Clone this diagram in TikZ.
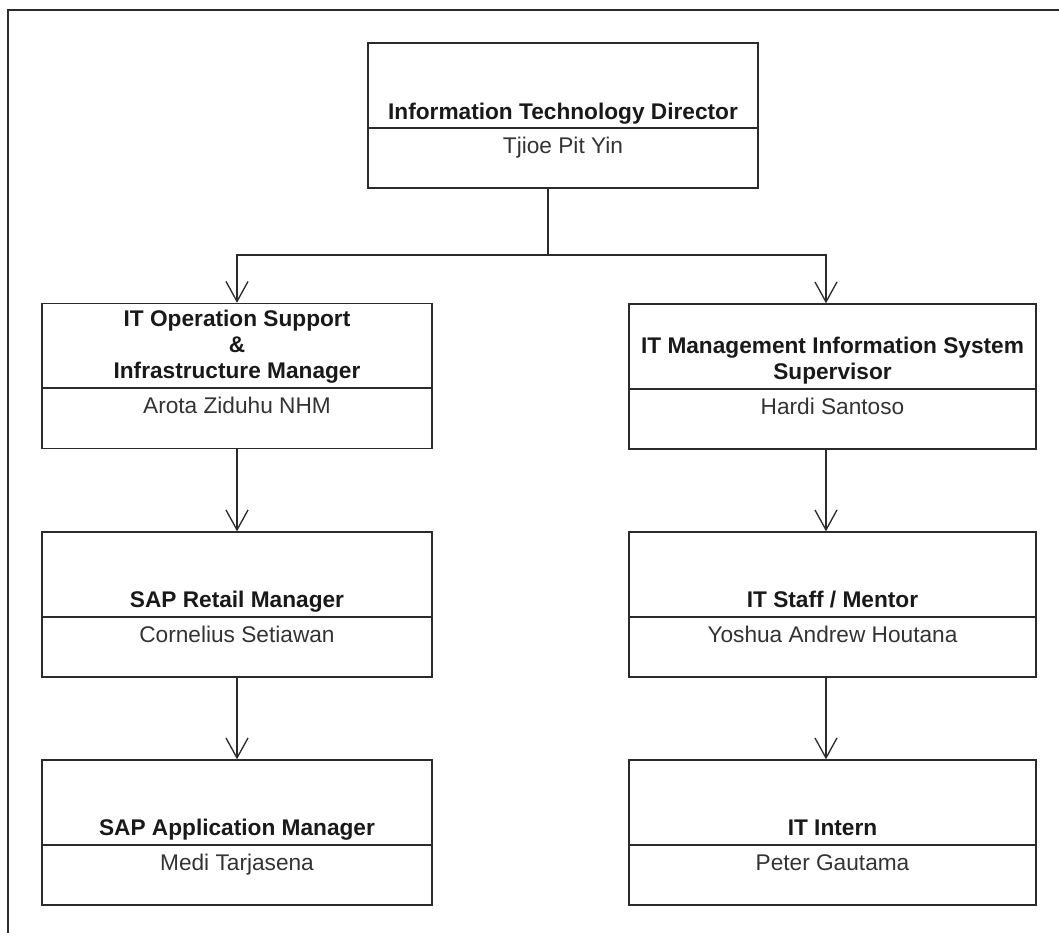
\documentclass[tikz,border=0pt]{standalone}
\usepackage{fontspec}
\setmainfont{Liberation Sans}
\usetikzlibrary{arrows.meta}
\definecolor{edge}{HTML}{2B2B2B}
\definecolor{namegray}{HTML}{333333}
\begin{document}
\begin{tikzpicture}[x=0.75pt,y=-0.75pt,
    box/.style={draw=edge,line width=1pt,rectangle,inner sep=0pt,minimum height=108.75pt},
    narrowbox/.style={box,minimum width=292.5pt},
    widebox/.style={box,minimum width=305.25pt},
    title/.style={anchor=base,align=center,inner sep=0pt,font=\fontsize{17}{19.2}\selectfont\bfseries,text=black!90},
    person/.style={anchor=base,inner sep=0pt,font=\fontsize{17}{19.2}\selectfont,text=namegray},
    arr/.style={draw=edge,line width=1pt,-{Straight Barb[length=15pt,width=16.5pt]}}]
    \useasboundingbox (0,0) rectangle (1059,932);
    \draw[edge,line width=1.6pt] (1070,10) -- (8,10) -- (8,945);
    % boxes
    \node[narrowbox] (dir) at (563,115.5){};
    \node[narrowbox] (ops) at (237,376){};
    \node[widebox] (mis) at (832.5,376.5){};
    \node[narrowbox] (retail) at (237,604.5){};
    \node[widebox] (staff) at (832.5,604.5){};
    \node[narrowbox] (app) at (237,832.5){};
    \node[widebox] (intern) at (832.5,832.5){};
    % dividers
    \draw[edge,line width=1pt] (dir.west |- 0,128) -- (dir.east |- 0,128);
    \draw[edge,line width=1pt] (ops.west |- 0,388) -- (ops.east |- 0,388);
    \draw[edge,line width=1pt] (mis.west |- 0,389) -- (mis.east |- 0,389);
    \draw[edge,line width=1pt] (retail.west |- 0,617) -- (retail.east |- 0,617);
    \draw[edge,line width=1pt] (staff.west |- 0,617) -- (staff.east |- 0,617);
    \draw[edge,line width=1pt] (app.west |- 0,845) -- (app.east |- 0,845);
    \draw[edge,line width=1pt] (intern.west |- 0,845) -- (intern.east |- 0,845);
    % titles and names
    \node[title] (dirT) at (563,119){Information Technology Director};
    \node[person] (dirN) at (563,153){Tjioe Pit Yin};
    \node[title] (opsT) at (237,378){IT Operation Support\\\&\\Infrastructure Manager};
    \node[person] (opsN) at (237,413){Arota Ziduhu NHM};
    \node[title] (misT) at (832.5,379){IT Management Information System\\Supervisor};
    \node[person] (misN) at (832.5,414){Hardi Santoso};
    \node[title] (retailT) at (237,607){SAP Retail Manager};
    \node[person] (retailN) at (237,642){Cornelius Setiawan};
    \node[title] (staffT) at (832.5,607){IT Staff / Mentor};
    \node[person] (staffN) at (832.5,642){Yoshua Andrew Houtana};
    \node[title] (appT) at (237,835){SAP Application Manager};
    \node[person] (appN) at (237,870){Medi Tarjasena};
    \node[title] (internT) at (832.5,835){IT Intern};
    \node[person] (internN) at (832.5,870){Peter Gautama};
    % connectors
    \coordinate (fork) at (548,255);
    \draw[edge,line width=1pt] (dir.south -| fork) -- (fork);
    \draw[arr] (fork) -| (ops.north);
    \draw[arr] (fork) -| ([xshift=-4.9pt]mis.north);
    \draw[arr] (ops.south) -- (retail.north);
    \draw[arr] (retail.south) -- (app.north);
    \draw[arr] ([xshift=-4.9pt]mis.south) -- ([xshift=-4.9pt]staff.north);
    \draw[arr] ([xshift=-4.9pt]staff.south) -- ([xshift=-4.9pt]intern.north);
\end{tikzpicture}
\end{document}
